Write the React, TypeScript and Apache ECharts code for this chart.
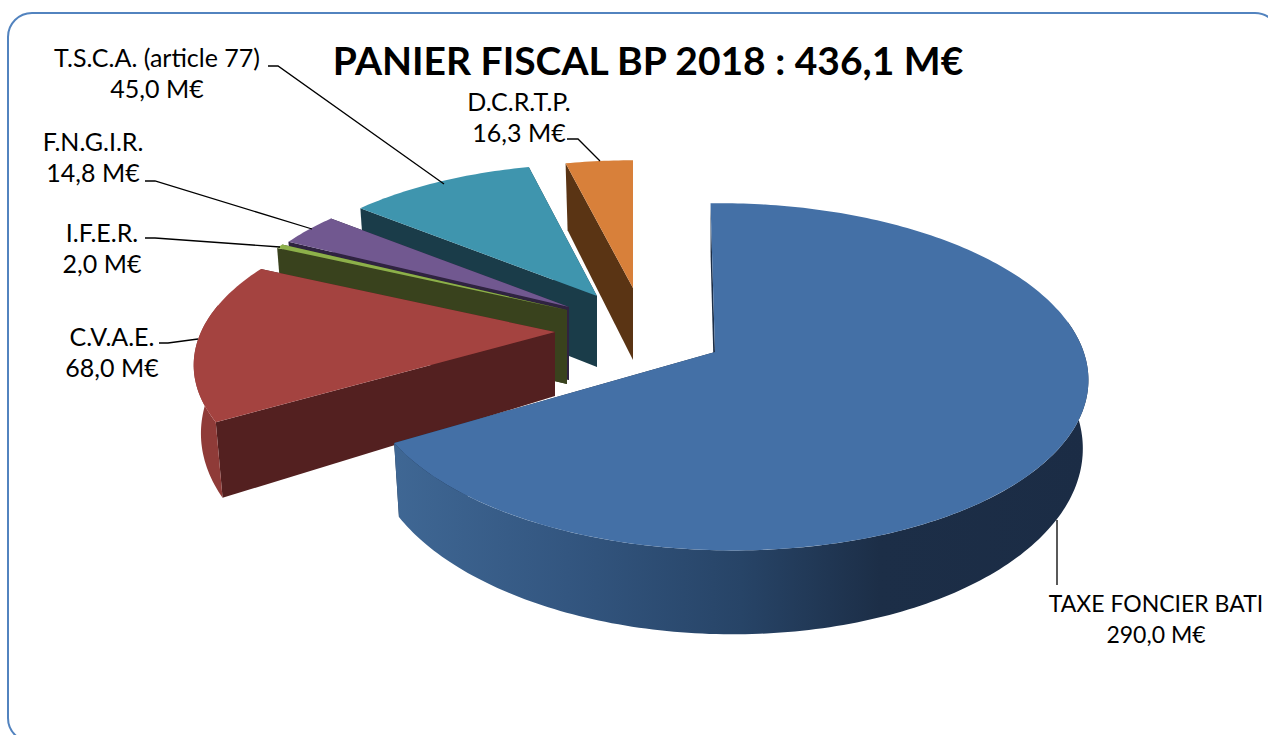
import React, { useEffect, useRef } from "react";
import * as echarts from "echarts";

const categories = ["TAXE FONCIER BATI", "C.V.A.E.", "I.F.E.R.", "F.N.G.I.R.", "T.S.C.A. (article 77)", "D.C.R.T.P."];
const values = [290.0, 68.0, 2.0, 14.8, 45.0, 16.3];
const titleText = "PANIER FISCAL BP 2018 : 436,1 M€";
const drawOrder = [5, 4, 3, 2, 1, 0];

const topColors = ["#4470a6", "#a44340", "#8db04a", "#715890", "#3f95ae", "#d8803a"];
const wallColors = ["#1c2e47", "#532020", "#39421d", "#2f2340", "#1a3c49", "#5a3414"];
const rimColors = ["", "#8f3b38", "#39421d", "#2f2340", "#1a3c49", "#5a3414"];

// per-slice projection: apex, radii, perspective terms, extrusion
const geometry = [
  { cx: 715, cy: 352, a: 358, b: 170, p: 1 / 7, q: 0.029, skew: 0.03, d: 66, mx: 0.985, my: 1.09 },
  { cx: 555, cy: 332, a: 354, b: 159, p: 0.2, q: 0, skew: 0, d: 64, mx: 0.98, my: 1.13 },
  { cx: 567, cy: 310, a: 341, b: 153, p: 1 / 7, q: 0, skew: 0, d: 74, mx: 0.98, my: 1.04 },
  { cx: 569, cy: 307, a: 336, b: 152, p: 1 / 7, q: 0, skew: 0, d: 73, mx: 0.98, my: 1.04 },
  { cx: 597, cy: 296, a: 334, b: 151, p: 1 / 7, q: 0, skew: 0, d: 71, mx: 0.98, my: 1.04 },
  { cx: 633, cy: 288, a: 330, b: 146, p: 1 / 7, q: 0, skew: 0, d: 72, mx: 0.97, my: 1.04 },
];

const labelPos = [
  { x: 1156, y: 618, size: 23 },
  { x: 112, y: 351, size: 25 },
  { x: 102, y: 247, size: 25 },
  { x: 93, y: 156, size: 25 },
  { x: 157, y: 72, size: 25 },
  { x: 519, y: 116, size: 25 },
];
const leaders: number[][][] = [
  [[1057, 520], [1057, 585]],
  [[159, 343], [168, 343], [198, 339]],
  [[145, 238], [155, 238], [280, 247]],
  [[145, 181], [155, 181], [312, 229]],
  [[268, 66], [278, 66], [444, 184]],
  [[567, 139], [578, 139], [600, 161]],
];

const total = values.reduce((s, v) => s + v, 0);
const fmt = (v: number) => v.toFixed(1).replace(".", ",") + " M€";

function renderItem(params: any, api: any) {
  const idx = api.value(1) as number;
  const value = api.value(0) as number;
  const before = values.slice(0, idx).reduce((s, v) => s + v, 0);
  const t0 = (before / total) * 360;
  const t1 = t0 + (value / total) * 360;
  const g = geometry[idx];
  const rel = (deg: number) => {
    const r = (deg * Math.PI) / 180;
    const X = Math.sin(r);
    const Y = -Math.cos(r);
    const w = 1 - g.p * Y - g.q * X;
    const sy = (g.b * Y) / w;
    const sx = (g.a * X) / w + g.skew * sy;
    return [sx, sy];
  };
  const top = (deg: number) => {
    const [x, y] = rel(deg);
    return [g.cx + x, g.cy + y];
  };
  const bottom = (deg: number) => {
    const [x, y] = rel(deg);
    return [g.cx + x * g.mx, g.cy + g.d + y * g.my];
  };
  const arc = (fn: (d: number) => number[], from: number, to: number) => {
    const pts: number[][] = [];
    const n = Math.max(2, Math.ceil(Math.abs(to - from)));
    for (let i = 0; i <= n; i++) pts.push(fn(from + ((to - from) * i) / n));
    return pts;
  };
  const apexTop = [g.cx, g.cy];
  const apexBottom = [g.cx, g.cy + g.d];
  const poly = (points: number[][], fill: any) => ({
    type: "polygon",
    shape: { points },
    style: { fill, stroke: null },
  });
  const children: any[] = [];
  children.push(poly([apexTop, top(t1), bottom(t1), apexBottom], wallColors[idx]));
  children.push(poly([apexTop, top(t0), bottom(t0), apexBottom], wallColors[idx]));
  const r0 = Math.max(t0, 80);
  const r1 = Math.min(t1, 280);
  if (r1 > r0) {
    const fill =
      idx === 0
        ? new echarts.graphic.LinearGradient(0, 0, 1, 0, [
            { offset: 0, color: "#3f6794" },
            { offset: 0.25, color: "#335680" },
            { offset: 0.5, color: "#274467" },
            { offset: 0.7, color: "#1c2e47" },
            { offset: 1, color: "#1b2c45" },
          ])
        : rimColors[idx];
    children.push(poly([...arc(top, r0, r1), ...arc(bottom, r1, r0)], fill));
  }
  children.push(poly([apexTop, ...arc(top, t0, t1)], topColors[idx]));
  return { type: "group", children };
}

export default function App() {
  const ref = useRef<HTMLDivElement>(null);
  useEffect(() => {
    if (!ref.current) return;
    const chart = echarts.init(ref.current, null, { renderer: "svg" });
    const font = "Lato, 'Open Sans', sans-serif";
    chart.setOption({
      animation: false,
      backgroundColor: "#ffffff",
      series: [
        {
          type: "custom",
          coordinateSystem: "none",
          silent: true,
          renderItem,
          data: drawOrder.map((i) => [values[i], i]),
          z: 2,
        },
      ],
      graphic: [
        {
          type: "rect",
          z: 1,
          silent: true,
          shape: { x: 8, y: 13, width: 1271, height: 729, r: 24 },
          style: { fill: "#ffffff", stroke: "#5283bf", lineWidth: 2 },
        },
        {
          type: "text",
          z: 5,
          silent: true,
          x: 648,
          y: 60,
          style: {
            text: titleText,
            x: 0,
            y: 0,
            align: "center",
            verticalAlign: "middle",
            font: `bold 39px ${font}`,
            fill: "#000000",
          },
        },
        ...leaders.map((pts) => ({
          type: "polyline",
          z: 5,
          silent: true,
          shape: { points: pts },
          style: { fill: null, stroke: "#000000", lineWidth: 1.3 },
        })),
        ...categories.map((name, i) => ({
          type: "text",
          z: 5,
          silent: true,
          x: labelPos[i].x,
          y: labelPos[i].y,
          style: {
            text: `${name}\n${fmt(values[i])}`,
            align: "center",
            verticalAlign: "middle",
            font: `${labelPos[i].size}px ${font}`,
            lineHeight: 31,
            fill: "#000000",
          },
        })),
      ],
    });
    return () => chart.dispose();
  }, []);
  return (
    <div
      ref={ref}
      style={{ position: "fixed", left: 0, top: 0, width: 1268, height: 735, background: "#fff" }}
    />
  );
}
